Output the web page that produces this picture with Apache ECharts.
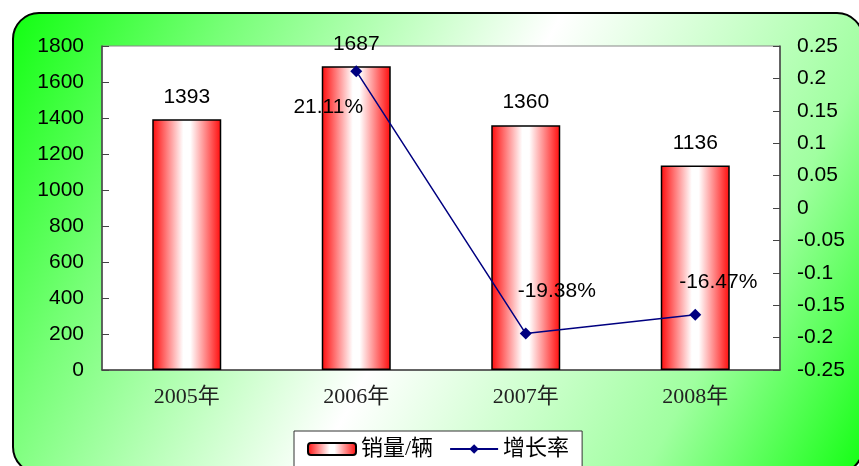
<!DOCTYPE html>
<html>
<head>
<meta charset="utf-8">
<script src="https://cdn.jsdelivr.net/npm/echarts@6/dist/echarts.min.js"></script>
<style>html,body{margin:0;padding:0;background:#fff}#c{width:859px;height:466px}</style>
</head>
<body>
<div id="c"></div>
<script>
const categories = ['2005年', '2006年', '2007年', '2008年'];
const sales = [1393, 1687, 1360, 1136];
const growth = ['-', 0.2111, -0.1938, -0.1647];
const growthLabels = ['', '21.11%', '-19.38%', '-16.47%'];
const leftTicks = ['0', '200', '400', '600', '800', '1000', '1200', '1400', '1600', '1800'];
const rightTicks = ['-0.25', '-0.2', '-0.15', '-0.1', '-0.05', '0', '0.05', '0.1', '0.15', '0.2', '0.25'];
const labelOffsets = [[0, 0], [-28, 36], [31, -42], [23, -33]];

const chart = echarts.init(document.getElementById('c'));
const sans = "'Liberation Sans', Arial, sans-serif";
const serif = "'Liberation Serif', 'Noto Sans CJK SC', serif";
const barGrad = new echarts.graphic.LinearGradient(0, 0, 1, 0, [
  {offset: 0, color: '#ff0a0a'},
  {offset: 0.45, color: '#ffffff'},
  {offset: 0.55, color: '#ffffff'},
  {offset: 1, color: '#ff0a0a'}
]);
chart.setOption({
  animation: false,
  graphic: [{
    type: 'rect', z: -100,
    shape: {x: 13, y: 13, width: 850, height: 460, r: 26},
    style: {
      fill: new echarts.graphic.LinearGradient(0, 0, 1, 1, [
        {offset: 0, color: '#11ff11'},
        {offset: 0.2, color: '#77ff77'},
        {offset: 0.5, color: '#ffffff'},
        {offset: 0.8, color: '#a0ffa0'},
        {offset: 1, color: '#11ff11'}
      ]),
      stroke: '#000', lineWidth: 2
    }
  }],
  grid: {left: 102, top: 46, right: 79, bottom: 96, show: true, backgroundColor: '#fff', borderColor: '#888', borderWidth: 1},
  legend: {
    left: 294, top: 431,
    padding: [7, 13],
    backgroundColor: '#fff', borderColor: '#333', borderWidth: 1,
    itemWidth: 48, itemHeight: 12, itemGap: 16,
    textStyle: {fontFamily: serif, fontSize: 22, color: '#000'},
    data: ['销量/辆', '增长率']
  },
  xAxis: {
    type: 'category', data: categories,
    axisLine: {lineStyle: {color: '#444', width: 1.5}},
    axisTick: {inside: true, length: 7, lineStyle: {color: '#444'}},
    axisLabel: {fontFamily: serif, fontSize: 22, color: '#222', margin: 16}
  },
  yAxis: [{
    type: 'value', min: 0, max: 1800, interval: 200,
    axisLine: {show: true, lineStyle: {color: '#444', width: 1.5}},
    axisTick: {show: true, inside: true, length: 7, lineStyle: {color: '#444'}},
    splitLine: {show: false},
    axisLabel: {fontFamily: sans, fontSize: 21, color: '#000', margin: 18, formatter: (v, i) => leftTicks[i]}
  }, {
    type: 'value', position: 'right', min: -0.25, max: 0.25, interval: 0.05,
    axisLine: {show: true, lineStyle: {color: '#444', width: 1.5}},
    axisTick: {show: true, inside: true, length: 7, lineStyle: {color: '#444'}},
    splitLine: {show: false},
    axisLabel: {fontFamily: sans, fontSize: 21, color: '#000', margin: 17, formatter: (v, i) => rightTicks[i]}
  }],
  series: [{
    name: '销量/辆', type: 'bar', data: sales, barWidth: 69,
    itemStyle: {color: barGrad, borderColor: '#000', borderWidth: 1.5},
    label: {show: true, position: 'top', distance: 12, fontFamily: sans, fontSize: 21, color: '#000'}
  }, {
    name: '增长率', type: 'line', yAxisIndex: 1,
    data: growth.map((v, i) => ({value: v, label: {offset: labelOffsets[i]}})),
    symbol: 'diamond', symbolSize: 12,
    lineStyle: {color: '#000080', width: 1.5},
    itemStyle: {color: '#000080'},
    label: {show: true, position: 'inside', fontFamily: sans, fontSize: 21, color: '#000',
      formatter: p => growthLabels[p.dataIndex]}
  }]
});
</script>
</body>
</html>
